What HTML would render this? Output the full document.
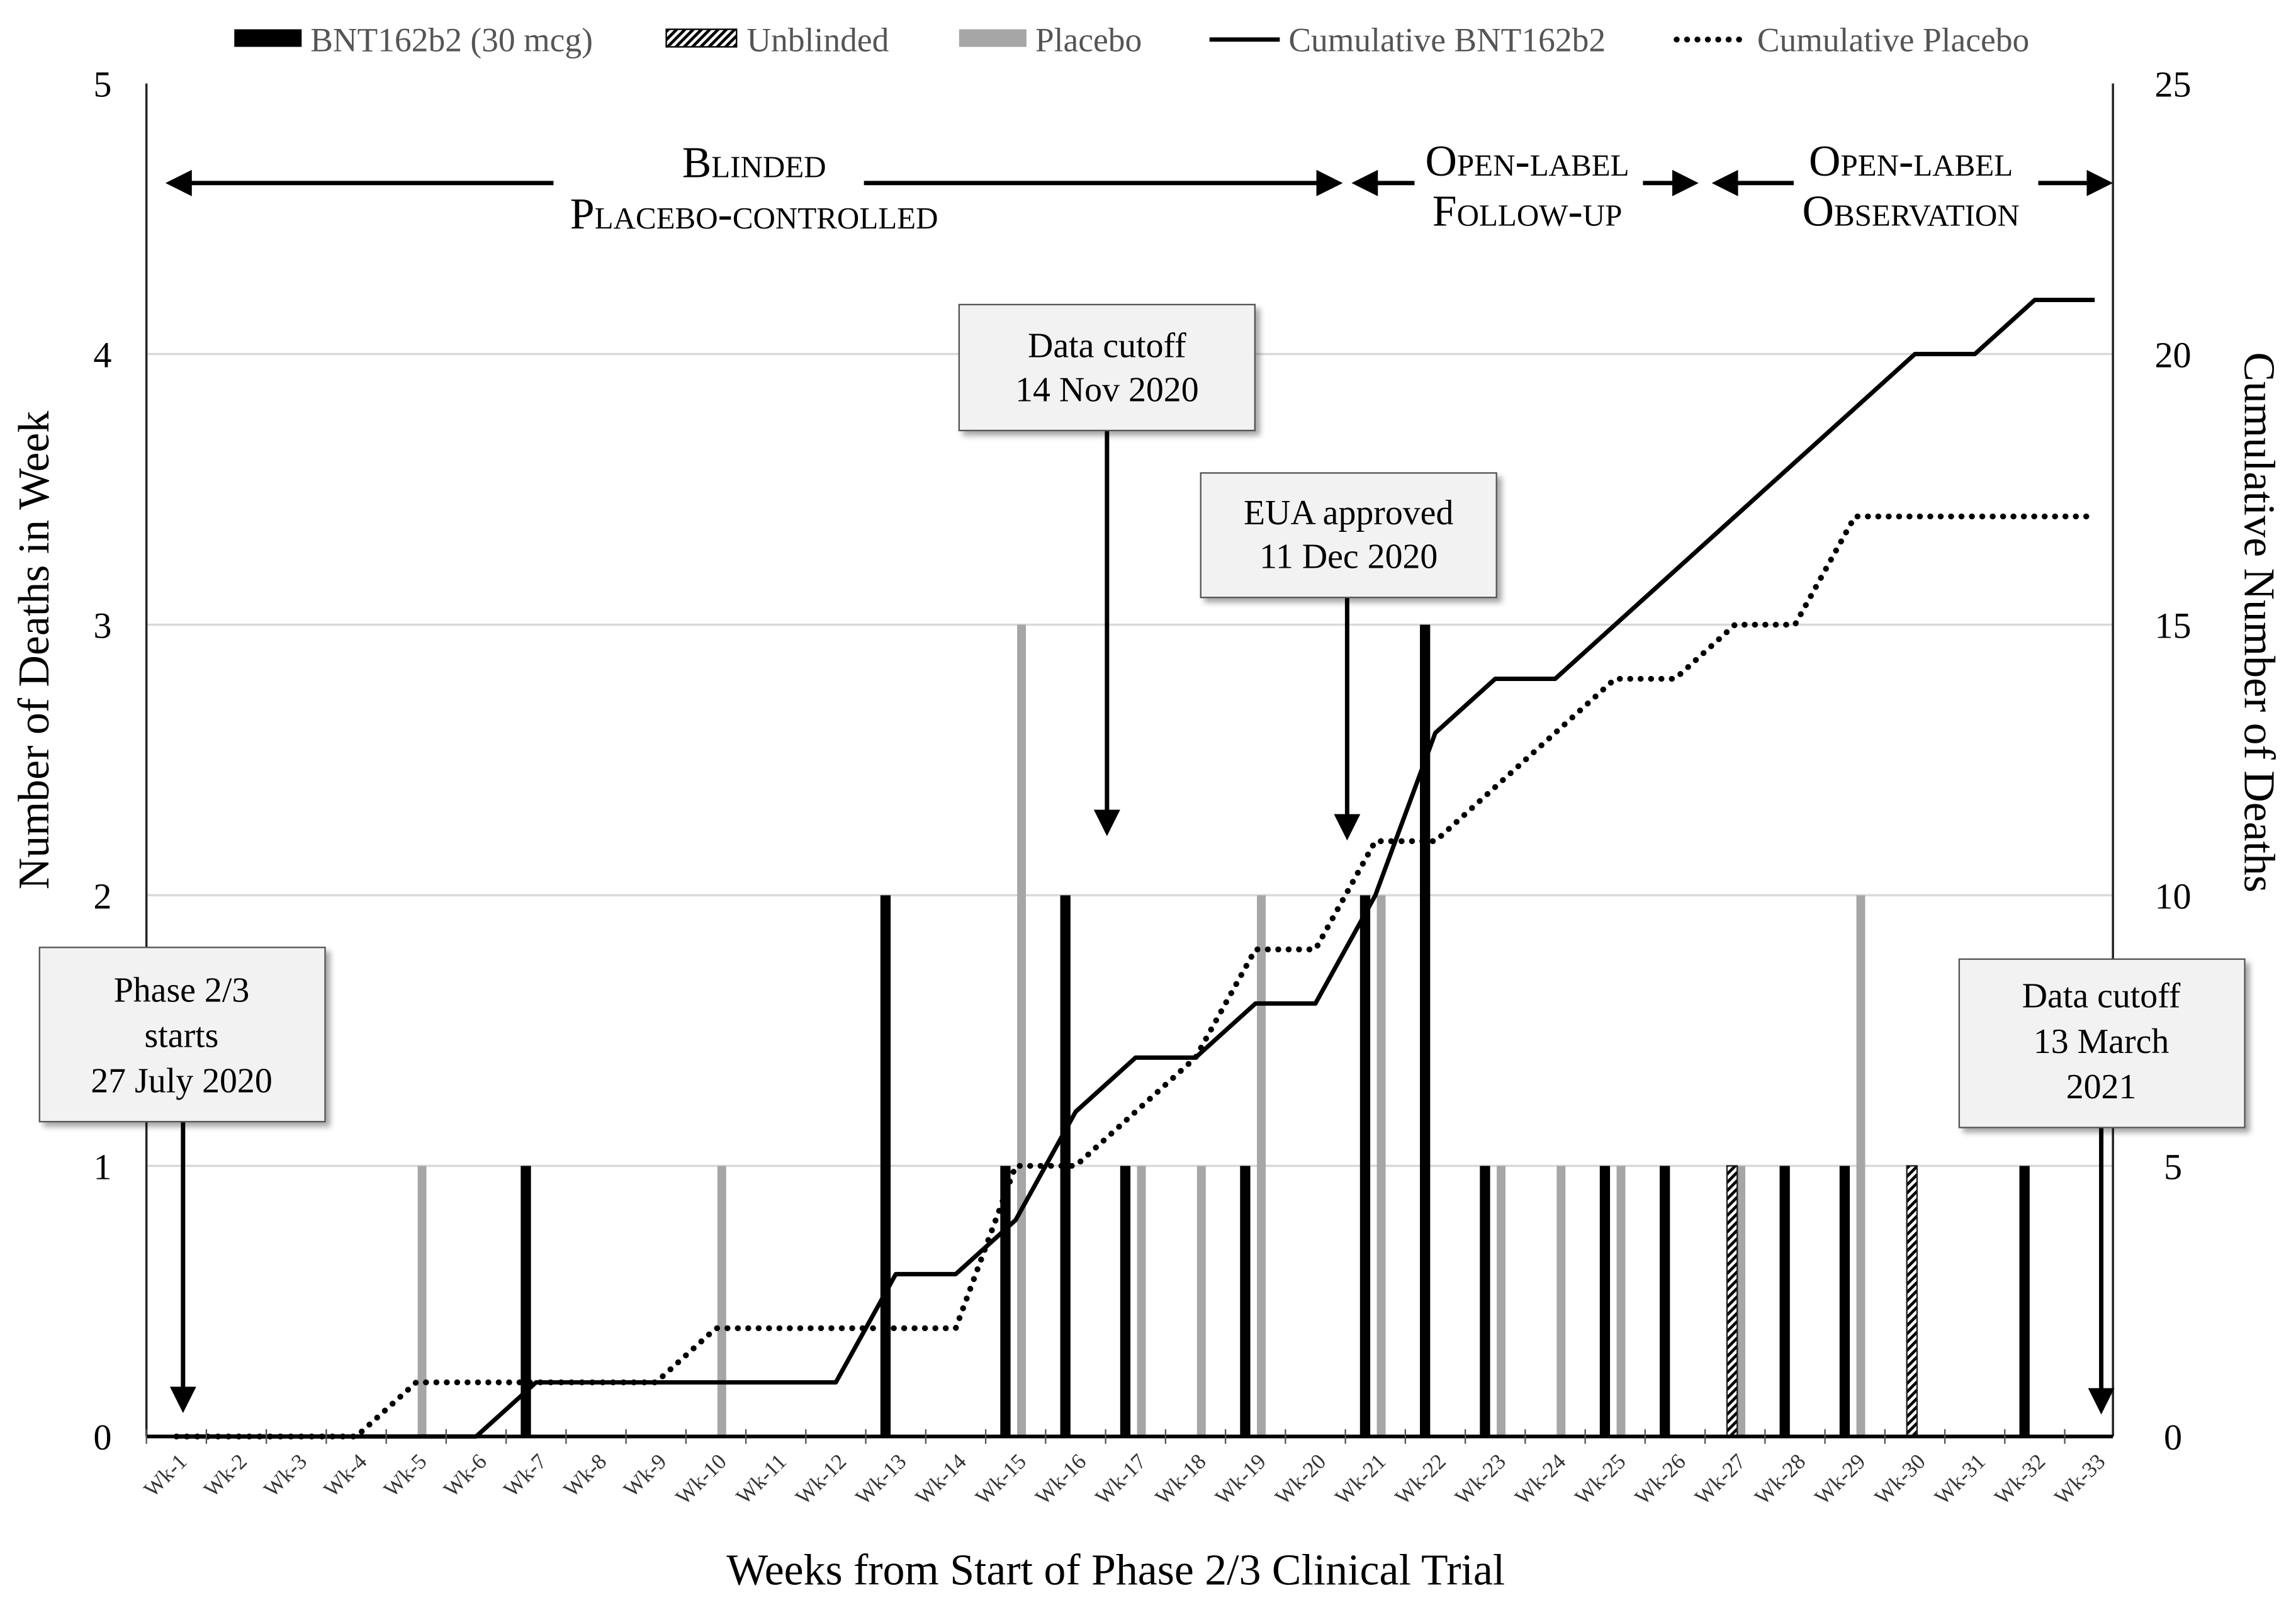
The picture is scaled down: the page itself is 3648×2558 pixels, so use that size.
<!DOCTYPE html>
<html><head><meta charset="utf-8"><style>
html,body{margin:0;padding:0;background:#fff}
svg{display:block}
text{font-family:"Liberation Serif",serif}
</style></head><body>
<svg id="chart" width="3648" height="2558" viewBox="0 0 1568 1099.5" xmlns="http://www.w3.org/2000/svg">
<defs>
<pattern id="hatch" width="4" height="4" patternUnits="userSpaceOnUse" patternTransform="rotate(45)">
<rect width="4" height="4" fill="#fff"/><rect width="2" height="4" fill="#000"/>
</pattern>
<marker id="ah" markerWidth="6" markerHeight="6" refX="5" refY="3" orient="auto" markerUnits="strokeWidth"><path d="M0,0 L6,3 L0,6 z" fill="#000"/></marker>
<filter id="sh"><feDropShadow dx="3" dy="3" stdDeviation="2" flood-color="#000" flood-opacity="0.35"/></filter>
</defs>
<g id="grid"></g>
<g id="bars"></g>
<g id="lines"></g>
<g id="axes"></g>

<!-- Legend -->
<g font-size="23" fill="#555">
<rect x="160" y="20" width="46" height="12" fill="#000"/>
<text x="212" y="35" fill="#555">BNT162b2 (30 mcg)</text>
<rect x="455" y="20" width="48" height="12" fill="url(#hatch)" stroke="#000" stroke-width="1"/>
<text x="510" y="35" fill="#555">Unblinded</text>
<rect x="655" y="20" width="46" height="12" fill="#a6a6a6"/>
<text x="707" y="35" fill="#555">Placebo</text>
<line x1="826" y1="27" x2="874" y2="27" stroke="#000" stroke-width="3"/>
<text x="880" y="35" fill="#555">Cumulative BNT162b2</text>
<line x1="1145" y1="27" x2="1193" y2="27" stroke="#000" stroke-width="4" stroke-dasharray="0.1 7" stroke-linecap="round"/>
<text x="1200" y="35" fill="#555">Cumulative Placebo</text>
</g>

<!-- Axis titles -->
<text font-size="30" text-anchor="middle" transform="translate(33,444) rotate(-90)">Number of Deaths in Week</text>
<text font-size="30" text-anchor="middle" transform="translate(1533,425) rotate(90)">Cumulative Number of Deaths</text>
<text font-size="30" text-anchor="middle" x="762" y="1082">Weeks from Start of Phase 2/3 Clinical Trial</text>

<!-- Period arrows -->
<g stroke="#000" stroke-width="3" font-size="30" style="font-variant:small-caps">
<line x1="378" y1="125" x2="116" y2="125" marker-end="url(#ah)"/>
<line x1="590" y1="125" x2="914" y2="125" marker-end="url(#ah)"/>
<text stroke="none" text-anchor="middle" x="515" y="121">Blinded</text>
<text stroke="none" text-anchor="middle" x="515" y="156">Placebo-controlled</text>
<line x1="966" y1="125" x2="926" y2="125" marker-end="url(#ah)"/>
<line x1="1122" y1="125" x2="1157" y2="125" marker-end="url(#ah)"/>
<text stroke="none" text-anchor="middle" x="1043" y="120">Open-label</text>
<text stroke="none" text-anchor="middle" x="1043" y="154">Follow-up</text>
<line x1="1225" y1="125" x2="1172" y2="125" marker-end="url(#ah)"/>
<line x1="1392" y1="125" x2="1440" y2="125" marker-end="url(#ah)"/>
<text stroke="none" text-anchor="middle" x="1305" y="120">Open-label</text>
<text stroke="none" text-anchor="middle" x="1305" y="154">Observation</text>
</g>

<!-- Annotations -->
<g font-size="24" text-anchor="middle">
<line x1="125" y1="766" x2="125" y2="962" stroke="#000" stroke-width="3" marker-end="url(#ah)"/>
<rect x="27" y="647" width="195" height="119" fill="#f2f2f2" stroke="#555" filter="url(#sh)"/>
<text x="124" y="684">Phase 2/3</text>
<text x="124" y="715">starts</text>
<text x="124" y="746">27 July 2020</text>

<line x1="756" y1="294" x2="756" y2="568" stroke="#000" stroke-width="3" marker-end="url(#ah)"/>
<rect x="655" y="208" width="202" height="86" fill="#f2f2f2" stroke="#555" filter="url(#sh)"/>
<text x="756" y="244">Data cutoff</text>
<text x="756" y="274">14 Nov 2020</text>

<line x1="920" y1="408" x2="920" y2="571" stroke="#000" stroke-width="3" marker-end="url(#ah)"/>
<rect x="820" y="323" width="202" height="85" fill="#f2f2f2" stroke="#555" filter="url(#sh)"/>
<text x="921" y="358">EUA approved</text>
<text x="921" y="388">11 Dec 2020</text>

<line x1="1435" y1="770" x2="1435" y2="963" stroke="#000" stroke-width="3" marker-end="url(#ah)"/>
<rect x="1338" y="655" width="195" height="115" fill="#f2f2f2" stroke="#555" filter="url(#sh)"/>
<text x="1435" y="688">Data cutoff</text>
<text x="1435" y="719">13 March</text>
<text x="1435" y="750">2021</text>
</g>
</svg>
<script>
const weeks = Array.from({length:33},(_,i)=>'Wk-'+(i+1));
const bntWeekly = [0,0,0,0,0,0,1,0,0,0,0,0,2,0,1,2,1,0,1,0,2,3,1,0,1,1,0,1,1,0,0,1,0];
const unblindedWeekly = [0,0,0,0,0,0,0,0,0,0,0,0,0,0,0,0,0,0,0,0,0,0,0,0,0,0,1,0,0,1,0,0,0];
const placeboWeekly = [0,0,0,0,1,0,0,0,0,1,0,0,0,0,3,0,1,1,2,0,2,0,1,1,1,0,1,0,2,0,0,0,0];
const cumBnt = [0,0,0,0,0,0,1,1,1,1,1,1,3,3,4,6,7,7,8,8,10,13,14,14,15,16,17,18,19,20,20,21,21];
const cumPlacebo = [0,0,0,0,1,1,1,1,1,2,2,2,2,2,5,5,6,7,9,9,11,11,12,13,14,14,15,15,17,17,17,17,17];
const leftTicks = [0,1,2,3,4,5];
const rightTicks = [0,5,10,15,20,25];

const NS='http://www.w3.org/2000/svg';
const X0=100,X1=1443,Y0=981,Y1=57;
const band=40.94;
const xc=i=>X0+(i+0.5)*band;
const yL=v=>Y0-(v/5)*(Y0-Y1);
const yR=v=>Y0-(v/25)*(Y0-Y1);
function mk(tag,attrs,parent){const e=document.createElementNS(NS,tag);for(const k in attrs)e.setAttribute(k,attrs[k]);parent.appendChild(e);return e;}
const grid=document.getElementById('grid'),bars=document.getElementById('bars'),lines=document.getElementById('lines'),axes=document.getElementById('axes');

leftTicks.forEach(v=>{
  if(v>0&&v<5){const g=mk('line',{x1:X0,x2:X1,y1:yL(v),y2:yL(v),stroke:'#d9d9d9','stroke-width':1.5},grid);
  
  }
  const t=mk('text',{x:70,y:yL(v)+9,'font-size':25,'text-anchor':'middle'},axes);t.textContent=v;
  
  
});
rightTicks.forEach(v=>{
  const t=mk('text',{x:1484,y:yR(v)+9,'font-size':25,'text-anchor':'middle'},axes);t.textContent=v;
  
  
});

function drawBars(arr,off,w,fill,name){
  arr.forEach((v,i)=>{if(!v)return;
    const r=mk('rect',{x:xc(i)+off-w/2,y:yL(v),width:w,height:Y0-yL(v),fill:fill},bars);
    if(fill.startsWith('url'))r.setAttribute('stroke','#222');
    
    
  });
}
drawBars(placeboWeekly,4,6,'#a6a6a6','bar-placebo');
drawBars(unblindedWeekly,-2,7,'url(#hatch)','bar-unblinded');
drawBars(bntWeekly,-7,7,'#000','bar-bnt162b2');

const pts=a=>a.map((v,i)=>xc(i)+','+yR(v)).join(' ');
const lp=mk('polyline',{points:pts(cumPlacebo),fill:'none',stroke:'#000','stroke-width':4,'stroke-dasharray':'0.1 7','stroke-linecap':'round'},lines);


const lb=mk('polyline',{points:pts(cumBnt),fill:'none',stroke:'#000','stroke-width':3,'stroke-linejoin':'round'},lines);



const la=mk('line',{x1:X0,x2:X0,y1:Y1,y2:Y0,stroke:'#222','stroke-width':1.5},axes);


const ra=mk('line',{x1:X1,x2:X1,y1:Y1,y2:Y0,stroke:'#222','stroke-width':1.5},axes);


const ba=mk('line',{x1:X0,x2:X1,y1:Y0,y2:Y0,stroke:'#000','stroke-width':2.5},axes);


for(let i=0;i<=weeks.length;i++){
  const xx=X0+i*band; if(xx>X1+1)continue;
  const t=mk('line',{x1:xx,x2:xx,y1:Y0-5,y2:Y0+5,stroke:'#555','stroke-width':1},axes);
  
  
}
weeks.forEach((w,i)=>{
  const t=mk('text',{'font-size':15,'text-anchor':'end',fill:'#333',transform:`translate(${xc(i)+8},${Y0+18}) rotate(-45)`},axes);
  t.textContent=w;
  
  
});
</script>
</body></html>
